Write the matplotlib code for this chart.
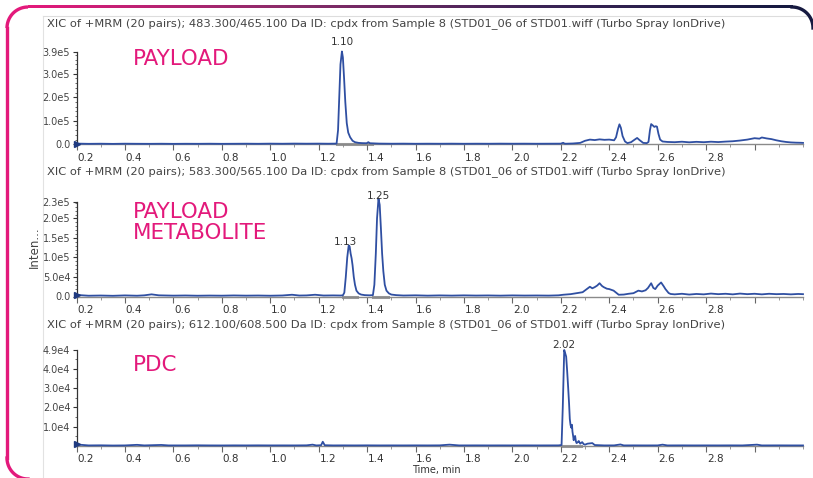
import numpy as np
import matplotlib
matplotlib.use("Agg")
import matplotlib.pyplot as plt
import matplotlib.transforms as mtransforms
from matplotlib.colors import LinearSegmentedColormap
from matplotlib.ticker import MultipleLocator

# ---------------- data ----------------
titles = [
    "XIC of +MRM (20 pairs); 483.300/465.100 Da ID: cpdx from Sample 8 (STD01_06 of STD01.wiff (Turbo Spray IonDrive)",
    "XIC of +MRM (20 pairs); 583.300/565.100 Da ID: cpdx from Sample 8 (STD01_06 of STD01.wiff (Turbo Spray IonDrive)",
    "XIC of +MRM (20 pairs); 612.100/608.500 Da ID: cpdx from Sample 8 (STD01_06 of STD01.wiff (Turbo Spray IonDrive)",
]
panel_names = ["PAYLOAD", "PAYLOAD\nMETABOLITE", "PDC"]

x_ticks = [0.2, 0.4, 0.6, 0.8, 1.0, 1.2, 1.4, 1.6, 1.8, 2.0, 2.2, 2.4, 2.6, 2.8, 3.0]
x_tick_labels = ["0.2", "0.4", "0.6", "0.8", "1.0", "1.2", "1.4", "1.6", "1.8", "2.0",
                 "2.2", "2.4", "2.6", "2.8", ""]

t_payload = [0.20, 0.25, 0.30, 0.35, 0.40, 0.45, 0.50, 0.55, 0.60, 0.65, 0.70, 0.75, 0.80, 0.85,
             0.90, 0.95, 1.00, 1.05, 1.10, 1.15, 1.20, 1.24, 1.274, 1.280, 1.285, 1.290, 1.296,
             1.300, 1.305, 1.310, 1.316, 1.322, 1.330, 1.340, 1.350, 1.365, 1.380, 1.398, 1.405,
             1.412, 1.45, 1.50, 1.55, 1.60, 1.65, 1.70, 1.75, 1.80, 1.85, 1.90, 1.95, 2.00, 2.05,
             2.10, 2.15, 2.20, 2.21, 2.215, 2.22, 2.25, 2.28, 2.30, 2.32, 2.34, 2.36, 2.38, 2.40,
             2.42, 2.428, 2.436, 2.442, 2.448, 2.455, 2.465, 2.475, 2.49, 2.505, 2.515, 2.525,
             2.54, 2.555, 2.562, 2.568, 2.573, 2.580, 2.586, 2.592, 2.597, 2.603, 2.61, 2.62,
             2.64, 2.67, 2.70, 2.73, 2.76, 2.79, 2.82, 2.85, 2.88, 2.91, 2.94, 2.97, 3.00, 3.02,
             3.03, 3.05, 3.07, 3.09, 3.11, 3.13, 3.15, 3.17, 3.19, 3.20]
i_payload = [3000, 2000, 2500, 1800, 2600, 2200, 2000, 2400, 1900, 2300, 2100, 2500, 2000, 2300,
             2600, 2200, 2800, 2400, 3000, 2600, 2900, 2500, 3000, 60000, 200000, 340000, 395000,
             370000, 280000, 180000, 90000, 50000, 30000, 15000, 9000, 6000, 5000, 4500, 9000,
             4500, 3000, 2500, 2800, 2300, 2600, 2400, 2700, 2300, 2600, 2400, 2800, 2500, 2700,
             2400, 2600, 2800, 6500, 3000, 2500, 3500, 6000, 15000, 20000, 18000, 21000, 19000, 20000,
             17000, 30000, 65000, 85000, 70000, 35000, 12000, 5000, 9000, 20000, 27000, 18000,
             6000, 5000, 10000, 60000, 86000, 80000, 74000, 77000, 75000, 45000, 20000, 12000,
             10000, 9000, 11000, 8500, 10500, 9000, 11000, 9500, 11500, 13000, 16000, 20000, 26000, 24000,
             29000, 25000, 22000, 17000, 13000, 10000, 8000, 7000, 6500, 6000]

t_metab = [0.20, 0.25, 0.30, 0.35, 0.40, 0.45, 0.48, 0.51, 0.54, 0.60, 0.65, 0.70, 0.75, 0.80,
           0.85, 0.90, 0.95, 1.00, 1.05, 1.09, 1.12, 1.15, 1.185, 1.22, 1.26, 1.29, 1.300, 1.306,
           1.312, 1.318, 1.324, 1.328, 1.332, 1.336, 1.340, 1.345, 1.350, 1.356, 1.365, 1.375,
           1.39, 1.41, 1.424, 1.430, 1.436, 1.441, 1.447, 1.452, 1.457, 1.462, 1.467, 1.473,
           1.480, 1.490, 1.50, 1.52, 1.55, 1.60, 1.65, 1.70, 1.75, 1.80, 1.85, 1.90, 1.95, 2.00,
           2.05, 2.10, 2.15, 2.19, 2.21, 2.24, 2.27, 2.29, 2.305, 2.32, 2.33, 2.34, 2.35, 2.36,
           2.37, 2.377, 2.39, 2.40, 2.418, 2.43, 2.439, 2.46, 2.48, 2.50, 2.52, 2.535, 2.55, 2.56,
           2.573, 2.582, 2.59, 2.60, 2.614, 2.625, 2.632, 2.645, 2.653, 2.67, 2.70, 2.73, 2.76,
           2.79, 2.82, 2.85, 2.88, 2.91, 2.94, 2.97, 3.00, 3.03, 3.06, 3.09, 3.12, 3.15, 3.18, 3.20]
i_metab = [4000, 2000, 2500, 1800, 2800, 2000, 3000, 5500, 3000, 2200, 2600, 2000, 2400, 2100,
           2700, 2200, 2500, 2000, 2600, 4500, 2500, 2800, 4500, 2500, 2800, 2500, 3000, 10000,
           50000, 100000, 131000, 128000, 110000, 98000, 80000, 50000, 30000, 15000, 8000, 5000,
           3500, 3000, 3500, 30000, 110000, 200000, 251000, 235000, 175000, 110000, 65000, 30000,
           15000, 8000, 5000, 3500, 2500, 3000, 2200, 2800, 2300, 2900, 2400, 2700, 2200, 2800,
           2400, 2600, 2300, 3000, 4500, 6000, 9000, 11000, 18000, 25000, 21000, 24000, 28000, 34000,
           27000, 24000, 20000, 19000, 15000, 9000, 4500, 5000, 7000, 8500, 15000, 13000, 16000, 22000,
           34000, 22000, 19000, 28000, 36000, 26000, 19000, 9000, 6500, 5500, 7000, 5000, 6500,
           5500, 7500, 6000, 7000, 5500, 7500, 6000, 7000, 5500, 7000, 6000, 6500, 5500, 6500, 6000]

t_pdc = [0.20, 0.25, 0.30, 0.35, 0.40, 0.45, 0.48, 0.55, 0.58, 0.65, 0.70, 0.75, 0.80, 0.85,
         0.90, 0.95, 1.00, 1.05, 1.10, 1.15, 1.175, 1.19, 1.21, 1.217, 1.225, 1.26, 1.30, 1.35,
         1.40, 1.45, 1.50, 1.55, 1.60, 1.65, 1.70, 1.74, 1.78, 1.85, 1.90, 1.95, 2.00, 2.05,
         2.10, 2.15, 2.19, 2.203, 2.208, 2.214, 2.218, 2.222, 2.226, 2.230, 2.234, 2.237, 2.240,
         2.243, 2.246, 2.248, 2.251, 2.253, 2.256, 2.259, 2.262, 2.265, 2.270, 2.274, 2.28,
         2.288, 2.295, 2.30, 2.31, 2.33, 2.34, 2.38, 2.42, 2.446, 2.46, 2.50, 2.55, 2.60, 2.62,
         2.64, 2.70, 2.75, 2.80, 2.85, 2.90, 2.95, 3.01, 3.03, 3.10, 3.15, 3.20]
i_pdc = [800, 300, 350, 250, 300, 600, 300, 550, 300, 300, 350, 300, 280, 320,
         300, 330, 300, 310, 300, 350, 700, 300, 400, 2200, 400, 300, 320, 300,
         330, 300, 310, 300, 320, 300, 330, 700, 300, 320, 300, 310, 300, 320,
         300, 310, 320, 500, 20000, 49700, 48000, 46300, 39000, 30800, 22000, 14000, 10900,
         9500, 11000, 7500, 5000, 3000, 4500, 5200, 2500, 1500, 2000, 2600, 1200,
         2000, 900, 700, 1200, 1500, 500, 300, 320, 800, 300, 320, 300, 310, 700,
         300, 320, 300, 310, 300, 320, 300, 700, 300, 320, 300, 300]

y_ticks = [[0, 1e5, 2e5, 3e5, 3.94e5],
           [0, 5e4, 1e5, 1.5e5, 2e5, 2.43e5],
           [1e4, 2e4, 3e4, 4e4, 4.97e4]]
y_tick_labels = [["0.0", "1.0e5", "2.0e5", "3.0e5", "3.9e5"],
                 ["0.0", "5.0e4", "1.0e5", "1.5e5", "2.0e5", "2.3e5"],
                 ["1.0e4", "2.0e4", "3.0e4", "4.0e4", "4.9e4"]]
y_tops = [3.94e5, 2.43e5, 4.97e4]
y_minor = [2e4, 1e4, 5e3]

# peak annotations: (time, intensity, label)
peaks = [[(1.296, 395000, "1.10")],
         [(1.324, 131000, "1.13"), (1.447, 251000, "1.25")],
         [(2.214, 49700, "2.02")]]
peak_offsets = [[(0, 9)], [(-3, 3), (0, 3)], [(0, 5)]]
# integration windows (start, end)
windows = [[(1.274, 1.42)], [(1.30, 1.36), (1.424, 1.485)], [(2.203, 2.285)]]

series = [(t_payload, i_payload), (t_metab, i_metab), (t_pdc, i_pdc)]

# ---------------- layout ----------------
W, H = 813, 478
fig = plt.figure(figsize=(W / 100, H / 100), dpi=100)
fig.patch.set_facecolor("white")


def rect(l, t, r, b):
    return [l / W, 1 - b / H, (r - l) / W, (b - t) / H]


# background decoration
bg = fig.add_axes([0, 0, 1, 1], zorder=-5)
bg.set_xlim(0, W)
bg.set_ylim(H, 0)
bg.axis("off")
pink = "#E3197B"
navy = "#161A40"
bg.plot([42.5, 42.5], [16, 478], color="#e2e2e2", lw=0.8)
bg.plot([42.5, 806], [16, 16], color="#dddddd", lw=0.8)
r = 21
th = np.linspace(np.pi, 1.5 * np.pi, 30)
bg.plot(28 + r * np.cos(th), 28 + r * np.sin(th), color=pink, lw=2.4, solid_capstyle="butt")
bg.plot([7, 7], [28, 458], color=pink, lw=2.4)
th2 = np.linspace(np.pi, 0.5 * np.pi, 30)
bg.plot(28 + r * np.cos(th2), 458 + r * np.sin(th2), color=pink, lw=2.4)
cmap = LinearSegmentedColormap.from_list("g", [pink, "#8C2C6A", "#3C2456", navy])
grad = np.linspace(0, 1, 400).reshape(1, -1)
bg.imshow(grad, cmap=cmap, aspect="auto", extent=[28, 792, 8.2, 5.8], interpolation="bilinear")
th3 = np.linspace(1.5 * np.pi, 2 * np.pi, 30)
bg.plot(792 + r * np.cos(th3), 28 + r * np.sin(th3), color=navy, lw=2.4)
bg.set_xlim(0, W)
bg.set_ylim(H, 0)

axes_px = [(76.5, 51.7, 803, 144.3), (76.5, 201.7, 803, 296.5), (76.5, 350, 803, 446)]
title_y = [24, 172, 325]
name_y = [58.7, 222.5, 365]
blue = "#2F4FA2"
offset = mtransforms.ScaledTranslation(9 / 100, 0, fig.dpi_scale_trans)

for k in range(3):
    ax = fig.add_axes(rect(*axes_px[k]))
    ax.set_facecolor("none")
    t, inten = series[k]
    for (s, e) in windows[k]:
        ax.plot([s, e], [0, 0], color="#9a9a9a", lw=2.2, zorder=1, clip_on=False)
    ax.plot(t, inten, color=blue, lw=1.3, zorder=3, clip_on=False)
    ax.plot(t[0], inten[0], marker=">", ms=5, color="#1f3a80", clip_on=False, zorder=4)
    ax.set_xlim(0.2, 3.2)
    ax.set_ylim(0, y_tops[k])
    for sp in ["top", "right"]:
        ax.spines[sp].set_visible(False)
    ax.spines["left"].set_color("#333333")
    ax.spines["left"].set_linewidth(0.9)
    ax.spines["bottom"].set_color("#8a8a8a")
    ax.spines["bottom"].set_linewidth(1.0)
    ax.set_xticks(x_ticks)
    ax.set_xticklabels(x_tick_labels)
    ax.xaxis.set_minor_locator(MultipleLocator(0.1))
    ax.tick_params(axis="x", which="major", length=4, width=0.8, color="#666666",
                   labelsize=7.5, labelcolor="#333333", pad=2)
    ax.tick_params(axis="x", which="minor", length=2, width=0.6, color="#888888")
    for lab in ax.get_xticklabels():
        lab.set_transform(lab.get_transform() + offset)
    ax.set_yticks(y_ticks[k])
    ax.set_yticklabels(y_tick_labels[k])
    ax.yaxis.set_minor_locator(MultipleLocator(y_minor[k]))
    ax.tick_params(axis="y", which="major", length=3, width=0.8, color="#333333",
                   labelsize=7, labelcolor="#444444", pad=1.5)
    ax.tick_params(axis="y", which="minor", length=1.5, width=0.6, color="#555555")
    for (pk, off) in zip(peaks[k], peak_offsets[k]):
        ax.annotate(pk[2], xy=(pk[0], pk[1]), xytext=off, textcoords="offset pixels",
                    ha="center", va="center", fontsize=7.5, color="#333333",
                    annotation_clip=False)

    tt = fig.text(46.5 / W, 1 - title_y[k] / H, titles[k], fontsize=8, color="#444444",
                  va="center", ha="left")
    fig.canvas.draw()
    bb = tt.get_window_extent()
    tt.set_fontsize(8 * 677 / bb.width)

    pt = fig.text(133 / W, 1 - name_y[k] / H, panel_names[k], fontsize=15.4, color=pink,
                  va="center", ha="left", linespacing=1.1)

fig.text(34 / W, 1 - 247 / H, "Inten...", rotation=90, fontsize=8.5, color="#444444",
         va="center", ha="center")
fig.text(436 / W, 1 - 470 / H, "Time, min", fontsize=7, color="#333333",
         va="center", ha="center")

fig.savefig("out.png", dpi=100, facecolor="white")
